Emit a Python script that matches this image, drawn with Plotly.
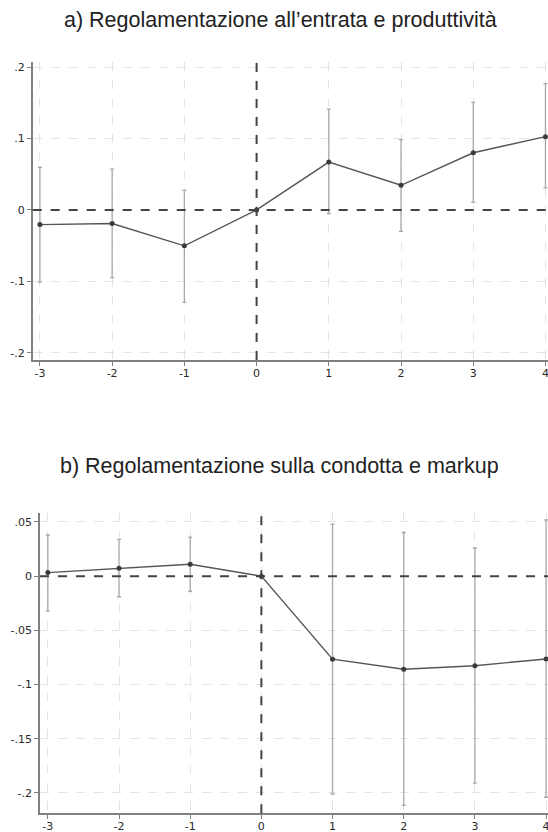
import plotly.graph_objects as go

periods = [-3, -2, -1, 0, 1, 2, 3, 4]

# Panel a) entry regulation and productivity
a_coef = [-0.0205, -0.019, -0.0503, 0.0, 0.067, 0.0345, 0.080, 0.1025]
a_upper = [0.0597, 0.057, 0.0275, 0.0, 0.141, 0.0983, 0.1506, 0.1766]
a_lower = [-0.101, -0.0947, -0.129, 0.0, -0.005, -0.030, 0.0107, 0.0308]

# Panel b) conduct regulation and markup
b_coef = [0.0033, 0.0074, 0.011, 0.0, -0.0766, -0.0859, -0.0826, -0.0764]
b_upper = [0.038, 0.034, 0.036, 0.0, 0.048, 0.0403, 0.026, 0.052]
b_lower = [-0.032, -0.019, -0.0139, 0.0, -0.201, -0.2115, -0.191, -0.204]

x_ticks = [-3, -2, -1, 0, 1, 2, 3, 4]
x_ticktext = ["-3", "-2", "-1", "0", "1", "2", "3", "4"]
a_yticks = [-0.2, -0.1, 0, 0.1, 0.2]
a_yticktext = ["-.2", "-.1", "0", ".1", ".2"]
b_yticks = [-0.2, -0.15, -0.1, -0.05, 0, 0.05]
b_yticktext = ["-.2", "-.15", "-.1", "-.05", "0", ".05"]

title_a = "a) Regolamentazione all\u2019entrata e produttività"
title_b = "b) Regolamentazione sulla condotta e markup"

W, H = 548, 832

fig = go.Figure()

def add_panel(coef, upper, lower, xa, ya):
    plus = [u - c for u, c in zip(upper, coef)]
    minus = [c - l for c, l in zip(coef, lower)]
    vis = [i for i in range(len(periods)) if plus[i] > 0 or minus[i] > 0]
    fig.add_trace(go.Scatter(
        x=[periods[i] for i in vis], y=[coef[i] for i in vis],
        mode="markers", marker=dict(size=1, color="rgba(0,0,0,0)"),
        error_y=dict(type="data", symmetric=False,
                     array=[plus[i] for i in vis], arrayminus=[minus[i] for i in vis],
                     color="#a8a8a8", thickness=1.3, width=2),
        xaxis=xa, yaxis=ya, showlegend=False, hoverinfo="skip", cliponaxis=False))
    fig.add_trace(go.Scatter(
        x=periods, y=coef, mode="lines+markers",
        line=dict(color="#555555", width=1.4),
        marker=dict(size=5, color="#3a3a3a"),
        xaxis=xa, yaxis=ya, showlegend=False, cliponaxis=False))

add_panel(a_coef, a_upper, a_lower, "x", "y")
add_panel(b_coef, b_upper, b_lower, "x2", "y2")

tickfont = dict(family="DejaVu Sans", size=11, color="#2a2a2a")
common_x = dict(tickvals=x_ticks, ticktext=x_ticktext, showgrid=True,
                gridcolor="#e4e4e4", griddash="dash", gridwidth=1,
                showline=True, linecolor="#808080", linewidth=1.5,
                ticks="outside", ticklen=4, tickcolor="#808080", tickwidth=1.2,
                zeroline=False, tickfont=tickfont, automargin=False,
                ticklabeloverflow="allow", ticklabelstandoff=-2)
common_y = dict(showgrid=True, gridcolor="#e4e4e4", griddash="dash", gridwidth=1,
                showline=True, linecolor="#808080", linewidth=1.5,
                ticks="outside", ticklen=4, tickcolor="#808080", tickwidth=1.2,
                zeroline=False, tickfont=tickfont, automargin=False,
                ticklabeloverflow="allow")

fig.update_layout(
    width=W, height=H,
    margin=dict(l=0, r=0, t=0, b=0, autoexpand=False),
    paper_bgcolor="white", plot_bgcolor="white",
    xaxis=dict(domain=[32.7 / W, 1.0], range=[-3.10, 4.035], anchor="y", **common_x),
    yaxis=dict(domain=[(H - 360) / H, (H - 62) / H], range=[-0.21, 0.207],
               tickvals=a_yticks, ticktext=a_yticktext, anchor="x", **common_y),
    xaxis2=dict(domain=[40 / W, 1.0], range=[-3.11, 4.027], anchor="y2", **common_x),
    yaxis2=dict(domain=[(H - 813.3) / H, (H - 513.3) / H], range=[-0.2188, 0.058],
                tickvals=b_yticks, ticktext=b_yticktext, anchor="x2", **common_y),
    shapes=[
        dict(type="line", xref="x domain", yref="y", x0=0, x1=1, y0=0, y1=0,
             line=dict(color="#444444", width=2, dash="dash")),
        dict(type="line", xref="x", yref="y domain", x0=0, x1=0, y0=0, y1=1.0,
             line=dict(color="#444444", width=2, dash="dash")),
        dict(type="line", xref="x2 domain", yref="y2", x0=0, x1=1, y0=0, y1=0,
             line=dict(color="#444444", width=2, dash="dash")),
        dict(type="line", xref="x2", yref="y2 domain", x0=0, x1=0, y0=0, y1=1.0,
             line=dict(color="#444444", width=2, dash="dash")),
    ],
    annotations=[
        dict(text=title_a, xref="paper", yref="paper", x=280 / W, y=(H - 20) / H,
             xanchor="center", yanchor="middle", showarrow=False,
             font=dict(family="Liberation Sans", size=21.5, color="#222222")),
        dict(text=title_b, xref="paper", yref="paper", x=279 / W, y=(H - 466) / H,
             xanchor="center", yanchor="middle", showarrow=False,
             font=dict(family="Liberation Sans", size=21.5, color="#222222")),
    ],
)

fig.write_html("out.html", config={"displayModeBar": False},
               post_script="document.body.style.margin='0';document.body.style.overflow='hidden';")
